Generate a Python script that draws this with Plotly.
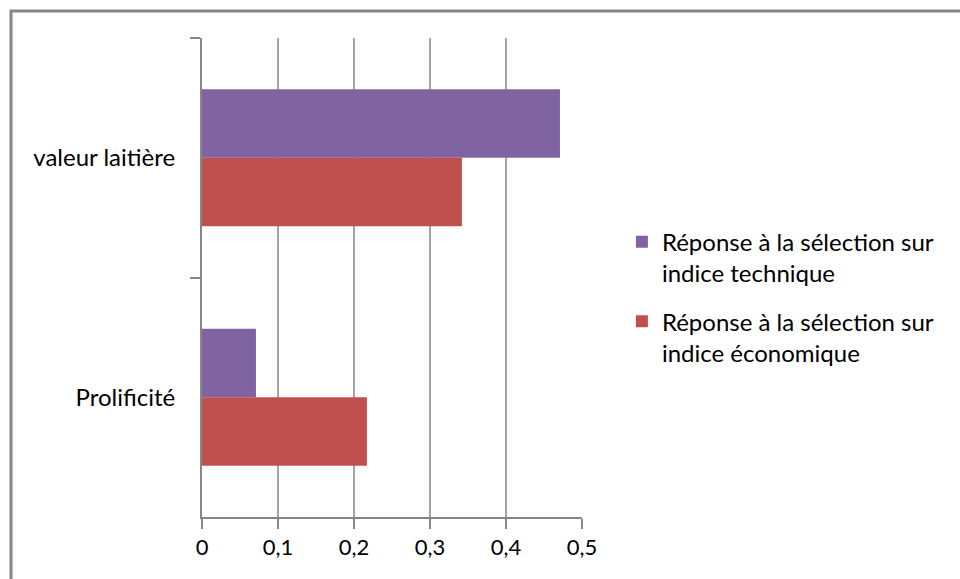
import plotly.graph_objects as go

# Categories (top to bottom) and the two selection responses
categories = ["valeur laitière", "Prolificité"]
reponse_technique = [0.471, 0.071]
reponse_economique = [0.342, 0.217]
series_names = [
    "Réponse à la sélection sur<br>indice technique",
    "Réponse à la sélection sur<br>indice économique",
]
x_tick_values = [0, 0.1, 0.2, 0.3, 0.4, 0.5]
grid_values = [0.1, 0.2, 0.3, 0.4]

PURPLE = "#8064A2"
RED = "#C0504D"
GREY = "#868686"
FONT = "Lato, 'Open Sans', sans-serif"

fig = go.Figure()
fig.add_trace(go.Bar(y=categories, x=reponse_technique, orientation="h",
                     name=series_names[0], legendgroup="tech",
                     marker=dict(color=PURPLE, line_width=0)))
fig.add_trace(go.Bar(y=categories, x=reponse_economique, orientation="h",
                     name=series_names[1], legendgroup="eco",
                     marker=dict(color=RED, line_width=0)))

fig.update_layout(
    width=960, height=579,
    margin=dict(l=202, r=378, t=38, b=62),
    paper_bgcolor="white", plot_bgcolor="white",
    barmode="group", bargap=0.427, bargroupgap=0,
    separators=", ",
    font=dict(family=FONT, size=24, color="#000000"),
    showlegend=True,
    legend=dict(x=1.105, y=0.459, xanchor="left", yanchor="middle",
                valign="top", tracegroupgap=14, font=dict(size=24),
                bgcolor="rgba(0,0,0,0)"),
    xaxis=dict(range=[0, 0.5], tickvals=x_tick_values, showgrid=False,
               showline=True, linecolor=GREY,
               linewidth=2, ticks="outside", ticklen=10, tickcolor=GREY,
               tickwidth=1.5, zeroline=False, fixedrange=True,
               tickfont=dict(size=22)),
    yaxis=dict(autorange="reversed", showgrid=False, showline=True,
               linecolor=GREY, linewidth=2, ticks="outside", ticklen=10,
               tickcolor=GREY, tickwidth=1.5, tickson="boundaries",
               zeroline=False, ticklabelstandoff=20),
)

# Vertical gridlines (none on the right edge of the plot area)
for gv in grid_values:
    fig.add_shape(type="line", xref="x", yref="paper", x0=gv, x1=gv,
                  y0=0, y1=1, line=dict(color=GREY, width=1.5), layer="below")

# Outer chart frame (right and bottom edges run off the canvas)
fig.add_shape(type="rect", xref="paper", yref="paper",
              x0=-0.5026, x1=2.5, y0=-0.3, y1=1.0564,
              line=dict(color=GREY, width=3), fillcolor="rgba(0,0,0,0)",
              layer="below")

fig.write_html("out.html")
